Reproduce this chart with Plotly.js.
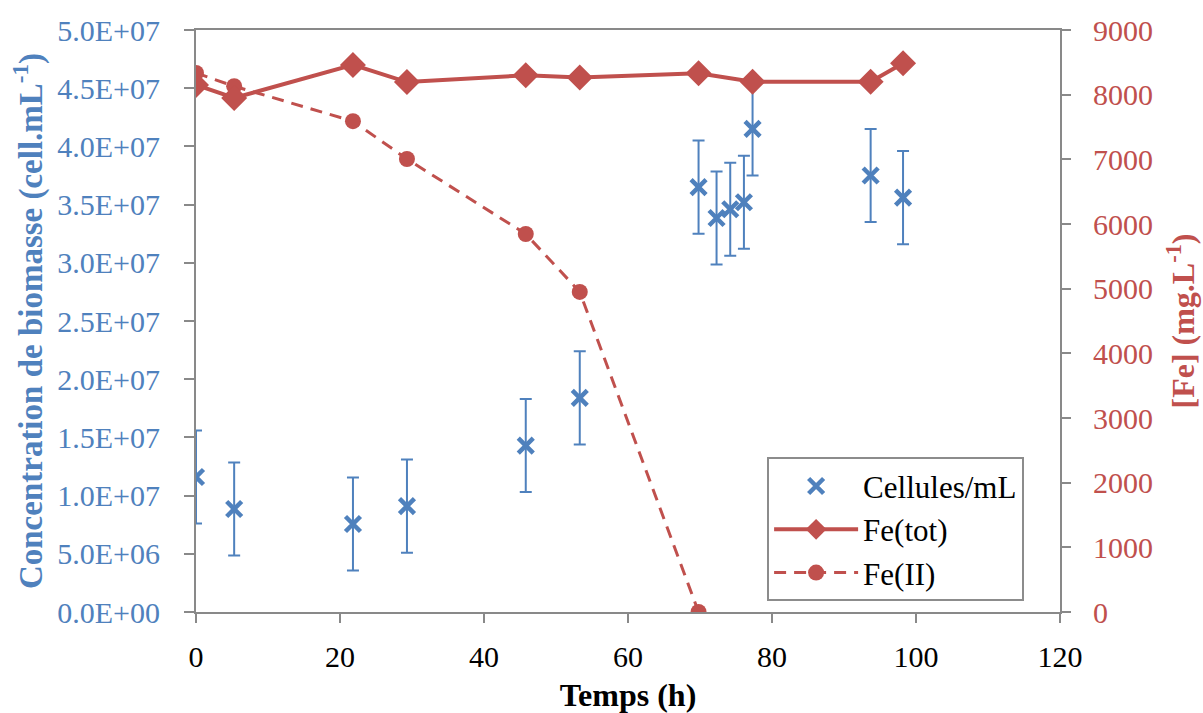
<!DOCTYPE html>
<html>
<head>
<meta charset="utf-8">
<script src="https://cdn.plot.ly/plotly-3.0.1.min.js"></script>
<style>html,body{margin:0;padding:0;background:#fff;}#chart{width:1203px;height:713px;}</style>
</head>
<body>
<div id="chart"></div>
<script>
// Cell counts (left axis)
const cellTime = [0, 5.3, 21.8, 29.3, 45.8, 53.3, 69.8, 72.3, 74.2, 76.1, 77.3, 93.7, 98.2];
const cellConc = [1.16e7, 0.885e7, 0.756e7, 0.91e7, 1.43e7, 1.84e7, 3.65e7, 3.385e7, 3.46e7, 3.52e7, 4.15e7, 3.75e7, 3.56e7];
const cellErr  = [4e6, 4e6, 4e6, 4e6, 4e6, 4e6, 4e6, 4e6, 4e6, 4e6, 4e6, 4e6, 4e6];

// Iron (right axis)
const feTotTime = [0, 5.3, 21.8, 29.3, 45.8, 53.3, 69.8, 77.3, 93.7, 98.2];
const feTot     = [8150, 7950, 8460, 8195, 8300, 8265, 8330, 8200, 8200, 8485];
const fe2Time   = [0, 5.3, 21.8, 29.3, 45.8, 53.3, 69.8];
const fe2       = [8335, 8130, 7590, 7005, 5845, 4950, 0];

// Tick labels
const leftTickVals = [0, 5e6, 1e7, 1.5e7, 2e7, 2.5e7, 3e7, 3.5e7, 4e7, 4.5e7, 5e7];
const leftTickText = ["0.0E+00","5.0E+06","1.0E+07","1.5E+07","2.0E+07","2.5E+07","3.0E+07","3.5E+07","4.0E+07","4.5E+07","5.0E+07"];
const rightTickVals = [0,1000,2000,3000,4000,5000,6000,7000,8000,9000];
const xTickVals = [0,20,40,60,80,100,120];

const BLUE = "#4F81BD", RED = "#C0504D", GREY = "#898989";
const FONT = "Liberation Serif, Times New Roman, serif";

const traces = [
  {
    x: cellTime, y: cellConc, type: "scatter", mode: "markers", name: "Cellules/mL",
    yaxis: "y", legendrank: 1,
    marker: {symbol: "x-thin", size: 15, color: BLUE, line: {color: BLUE, width: 4.5}},
    error_y: {type: "data", array: cellErr, visible: true, color: BLUE, thickness: 2, width: 6}
  },
  {
    x: fe2Time, y: fe2, type: "scatter", mode: "lines+markers", name: "Fe(II)",
    yaxis: "y2", legendrank: 3,
    line: {color: RED, width: 3, dash: "12px,8px"},
    marker: {symbol: "circle", size: 16, color: RED}
  },
  {
    x: feTotTime, y: feTot, type: "scatter", mode: "lines+markers", name: "Fe(tot)",
    yaxis: "y2", legendrank: 2,
    line: {color: RED, width: 4},
    marker: {symbol: "diamond", size: 20, color: RED}
  }
];

const layout = {
  width: 1203, height: 713,
  margin: {l: 196, r: 143, t: 30, b: 101},
  paper_bgcolor: "#fff", plot_bgcolor: "#fff",
  font: {family: FONT, size: 30, color: "#000"},
  showlegend: true,
  legend: {
    x: 0.661, y: 0.142, xanchor: "left", yanchor: "middle",
    bgcolor: "#fff", bordercolor: "#8c8c8c", borderwidth: 2,
    font: {family: FONT, size: 31, color: "#000"},
    traceorder: "normal", itemwidth: 84
  },
  xaxis: {
    range: [0, 120], tickvals: xTickVals, ticks: "outside", ticklen: 9, tickwidth: 2, tickcolor: GREY,
    showline: true, linecolor: GREY, linewidth: 2, mirror: true, showgrid: false, zeroline: false,
    ticklabelstandoff: 8,
    tickfont: {family: FONT, size: 30, color: "#000"},
    title: {text: "<b>Temps (h)</b>", font: {family: FONT, size: 32, color: "#000"}, standoff: 14}
  },
  yaxis: {
    range: [0, 5e7], tickvals: leftTickVals, ticktext: leftTickText, ticks: "outside", ticklen: 10, tickwidth: 2, tickcolor: GREY,
    showline: true, linecolor: GREY, linewidth: 2, showgrid: false, zeroline: false,
    ticklabelstandoff: 18,
    tickfont: {family: FONT, size: 30, color: BLUE},
    title: {text: "<b>Concentration de biomasse (cell.mL<sup>-1</sup>)</b>", font: {family: FONT, size: 33, color: BLUE}, standoff: 5}
  },
  yaxis2: {
    range: [0, 9000], tickvals: rightTickVals, overlaying: "y", side: "right", anchor: "x",
    ticks: "outside", ticklen: 9, tickwidth: 2, tickcolor: GREY,
    showline: true, linecolor: GREY, linewidth: 2, showgrid: false, zeroline: false,
    ticklabelstandoff: 16,
    tickfont: {family: FONT, size: 30, color: RED},
    title: {text: "<b>[Fe] (mg.L<sup>-1</sup>)</b>", font: {family: FONT, size: 32, color: RED}, standoff: 20}
  }
};

Plotly.newPlot("chart", traces, layout, {displayModeBar: false, staticPlot: true});
</script>
</body>
</html>
